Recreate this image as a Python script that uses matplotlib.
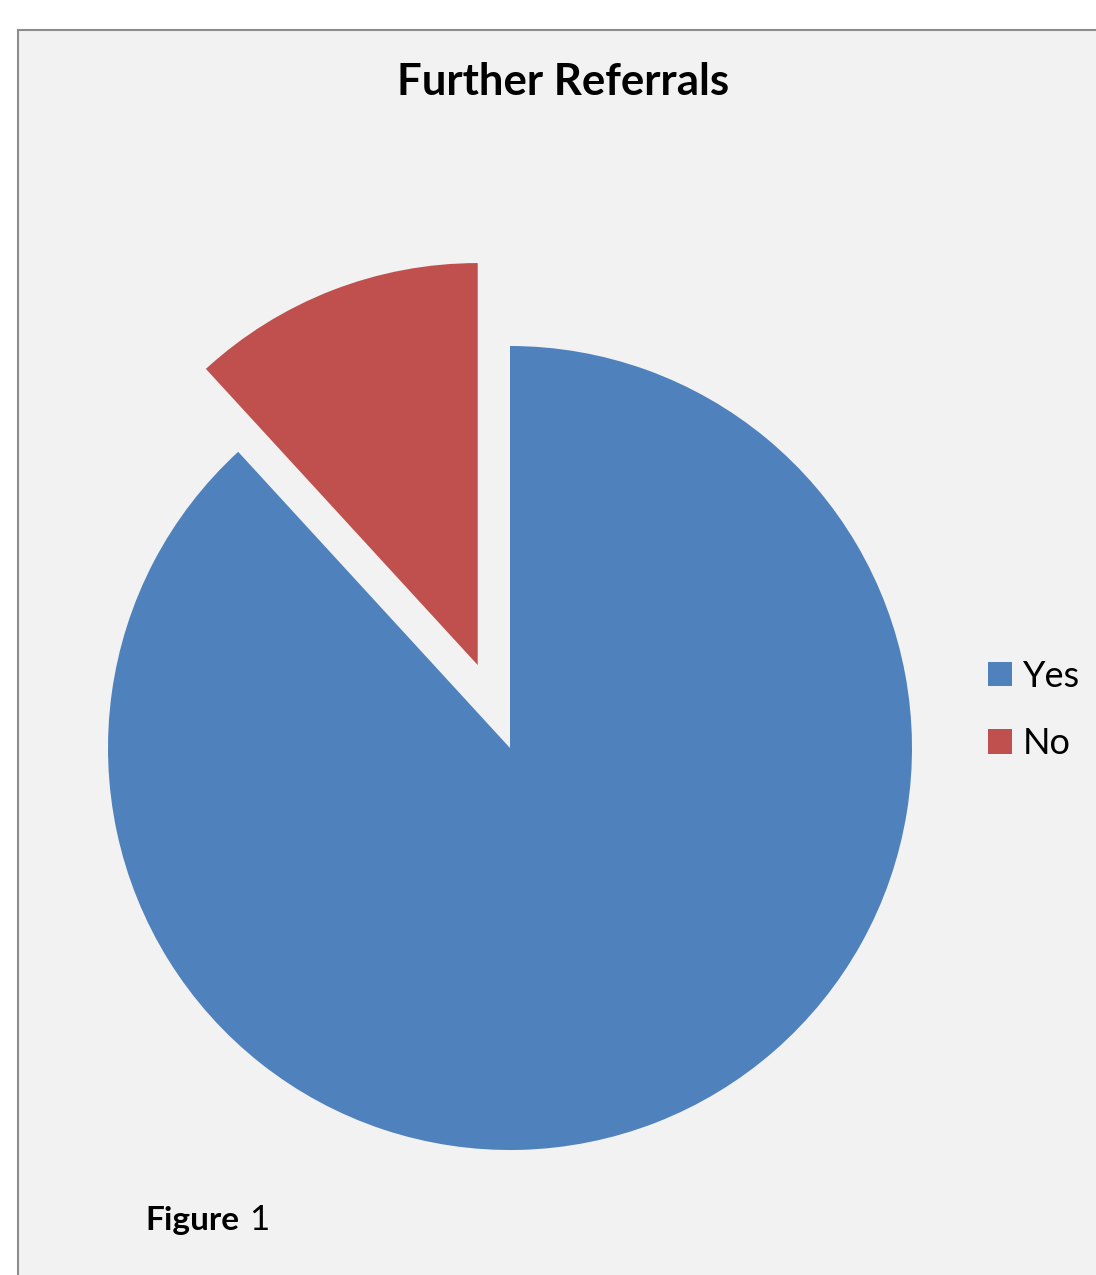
import matplotlib
matplotlib.use('Agg')
import matplotlib.pyplot as plt
from matplotlib.patches import Rectangle

# Data
labels = ['Yes', 'No']
values = [97, 13]
colors = ['#4F81BD', '#C0504D']

W, H = 1096, 1275


def main():
    plt.rcParams['font.family'] = ['Lato', 'DejaVu Sans']

    fig = plt.figure(figsize=(W / 100, H / 100), dpi=100, facecolor='white')
    ax = fig.add_axes([0, 0, 1, 1])

    # Chart area frame
    ax.add_patch(Rectangle((18, -10), W + 20, H - 30 + 10,
                           facecolor='#F2F2F2', edgecolor='#8C8C8C', lw=1.5, zorder=0))

    # Pie (pixel coordinates, y up)
    wedges, _ = ax.pie(values, colors=colors, startangle=90, counterclock=False,
                       explode=[0, 89], center=(510, H - 748), radius=402,
                       wedgeprops=dict(linewidth=0), frame=True)
    for w in wedges:
        w.set_zorder(2)

    ax.set_xlim(0, W)
    ax.set_ylim(0, H)
    ax.set_aspect('equal')
    ax.axis('off')

    # Title
    ax.text(563, H - 82, 'Further Referrals', ha='center', va='center',
            fontsize=31.5, fontweight='bold', color='black')

    # Legend
    fig.legend(wedges, labels, loc='center left',
               bbox_to_anchor=(970 / W, 1 - 710 / H), frameon=False,
               fontsize=26, handlelength=0.67, handleheight=0.67,
               handletextpad=0.3, labelspacing=0.95, borderpad=0)

    # Caption
    ax.text(145, H - 1230, 'Figure', ha='left', va='baseline',
            fontsize=24, fontweight='bold')
    ax.text(249, H - 1230, '1', ha='left', va='baseline', fontsize=25)

    fig.savefig('out.png', dpi=100)


if __name__ == '__main__':
    main()
